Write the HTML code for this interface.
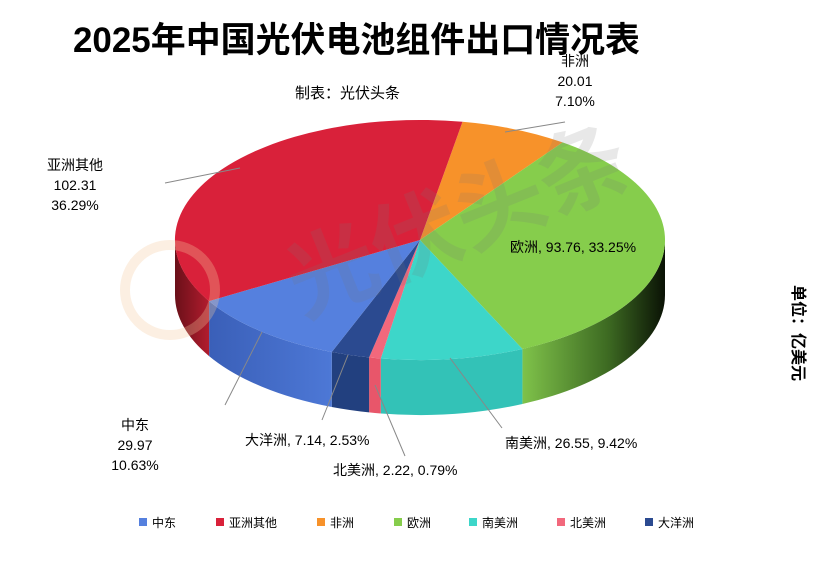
<!DOCTYPE html>
<html><head><meta charset="utf-8"><style>
body{margin:0;background:#fff;}
svg text{font-family:"Liberation Sans","Noto Sans CJK SC",sans-serif;}
</style></head><body>
<svg width="830" height="556" viewBox="0 0 830 556" xmlns="http://www.w3.org/2000/svg">
<defs>
<linearGradient id="gs" x1="0" x2="1" y1="0" y2="0">
<stop offset="0" stop-color="#7fc24a"/><stop offset="0.6" stop-color="#3d6a22"/><stop offset="1" stop-color="#0a1205"/>
</linearGradient>
<linearGradient id="rs" x1="0" x2="1"><stop offset="0" stop-color="#6a1019"/><stop offset="1" stop-color="#b21c2e"/></linearGradient>
<linearGradient id="bs" x1="0" x2="1"><stop offset="0" stop-color="#3a5fb8"/><stop offset="1" stop-color="#4d78d6"/></linearGradient>
</defs>
<rect width="830" height="556" fill="#fff"/>
<text x="73" y="52" font-size="35" font-weight="bold" fill="#000" textLength="567" lengthAdjust="spacingAndGlyphs">2025年中国光伏电池组件出口情况表</text>
<text x="295" y="98" font-size="15" fill="#000">制表：光伏头条</text>

<path d="M665,240 A245,120 0 0 1 522.4,349 L522.4,404 A245,120 0 0 0 665,295 Z" fill="url(#gs)"/>
<path d="M522.4,349 A245,120 0 0 1 380.8,358.5 L380.8,413.5 A245,120 0 0 0 522.4,404 Z" fill="#33c2b7"/>
<path d="M380.8,358.5 A245,120 0 0 1 369.1,357.4 L369.1,412.4 A245,120 0 0 0 380.8,413.5 Z" fill="#e8566a"/>
<path d="M369.1,357.4 A245,120 0 0 1 331.8,352 L331.8,407 A245,120 0 0 0 369.1,412.4 Z" fill="#22407f"/>
<path d="M331.8,352 A245,120 0 0 1 209.1,301.1 L209.1,356.1 A245,120 0 0 0 331.8,407 Z" fill="url(#bs)"/>
<path d="M209.1,301.1 A245,120 0 0 1 175,240 L175,295 A245,120 0 0 0 209.1,356.1 Z" fill="url(#rs)"/>

<path d="M420,240 L462.5,121.8 A245,120 0 0 1 562.6,142.4 Z" fill="#f7922a"/>
<path d="M420,240 L562.6,142.4 A245,120 0 0 1 522.4,349 Z" fill="#86cd4c"/>
<path d="M420,240 L522.4,349 A245,120 0 0 1 380.8,358.5 Z" fill="#3dd6c9"/>
<path d="M420,240 L380.8,358.5 A245,120 0 0 1 369.1,357.4 Z" fill="#f2687c"/>
<path d="M420,240 L369.1,357.4 A245,120 0 0 1 331.8,352 Z" fill="#2b4a90"/>
<path d="M420,240 L331.8,352 A245,120 0 0 1 209.1,301.1 Z" fill="#5580de"/>
<path d="M420,240 L209.1,301.1 A245,120 0 0 1 462.5,121.8 Z" fill="#d9213a"/>

<g opacity="0.16" fill="#777" transform="rotate(-22 460 200)">
<text x="270" y="250" font-size="90" font-weight="bold">光伏头条</text>
</g>
<circle cx="170" cy="290" r="45" fill="none" stroke="#f4c9a0" stroke-width="10" opacity="0.3"/>

<g stroke="#888" stroke-width="1" fill="none">
<polyline points="505,132 565,122"/>
<polyline points="165,183 240,168"/>
<polyline points="225,405 262,332"/>
<polyline points="322,420 348,355"/>
<polyline points="405,456 375,385"/>
<polyline points="502,428 450,358"/>
</g>

<g font-size="14" fill="#000">
<text x="575" y="66" text-anchor="middle">非洲</text>
<text x="575" y="86" text-anchor="middle">20.01</text>
<text x="575" y="106" text-anchor="middle">7.10%</text>
<text x="75" y="170" text-anchor="middle">亚洲其他</text>
<text x="75" y="190" text-anchor="middle">102.31</text>
<text x="75" y="210" text-anchor="middle">36.29%</text>
<text x="510" y="252">欧洲, 93.76, 33.25%</text>
<text x="135" y="430" text-anchor="middle">中东</text>
<text x="135" y="450" text-anchor="middle">29.97</text>
<text x="135" y="470" text-anchor="middle">10.63%</text>
<text x="245" y="445">大洋洲, 7.14, 2.53%</text>
<text x="333" y="475">北美洲, 2.22, 0.79%</text>
<text x="505" y="448">南美洲, 26.55, 9.42%</text>
</g>
<text transform="translate(793,285) rotate(90)" font-size="16" font-weight="bold" fill="#000">单位：亿美元</text>

<g font-size="12" fill="#000">
<rect x="139" y="518" width="8" height="8" fill="#5580de"/><text x="152" y="527">中东</text>
<rect x="216" y="518" width="8" height="8" fill="#d9213a"/><text x="229" y="527">亚洲其他</text>
<rect x="317" y="518" width="8" height="8" fill="#f7922a"/><text x="330" y="527">非洲</text>
<rect x="394" y="518" width="8" height="8" fill="#86cd4c"/><text x="407" y="527">欧洲</text>
<rect x="469" y="518" width="8" height="8" fill="#3dd6c9"/><text x="482" y="527">南美洲</text>
<rect x="557" y="518" width="8" height="8" fill="#f2687c"/><text x="570" y="527">北美洲</text>
<rect x="645" y="518" width="8" height="8" fill="#2b4a90"/><text x="658" y="527">大洋洲</text>
</g>
</svg>
</body></html>
